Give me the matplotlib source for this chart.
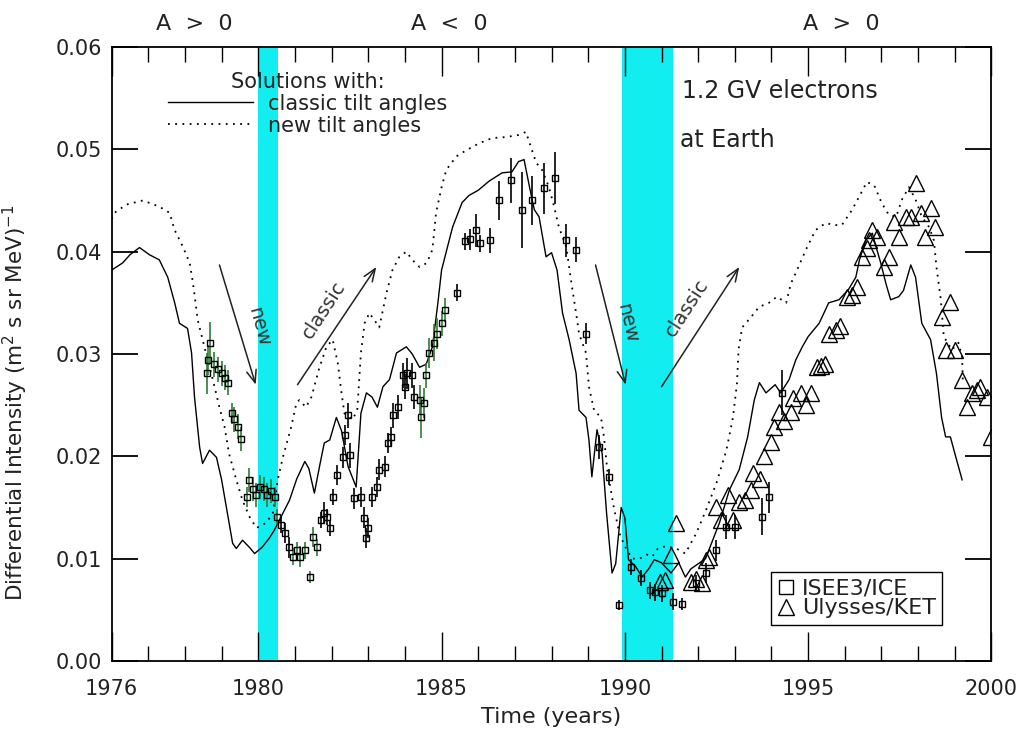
import numpy as np
import matplotlib
matplotlib.use("Agg")
import matplotlib.pyplot as plt
from matplotlib.lines import Line2D
from matplotlib.ticker import MultipleLocator
import matplotlib.transforms as mtransforms

# model solutions: classic tilt angles (solid)
classic_t = [1976.0, 1976.3, 1976.5, 1976.76, 1977.03, 1977.3, 1977.53, 1977.72, 1977.85, 1978.07,
             1978.18, 1978.26, 1978.4, 1978.48, 1978.67, 1978.86, 1979.0, 1979.13, 1979.3, 1979.4,
             1979.57, 1979.76, 1979.9, 1980.1, 1980.3, 1980.44, 1980.58, 1980.85, 1981.05, 1981.27,
             1981.38, 1981.53, 1981.67, 1981.8, 1981.95, 1982.13, 1982.27, 1982.45, 1982.67, 1982.8,
             1982.95, 1983.1, 1983.25, 1983.4, 1983.58, 1983.77, 1984.04, 1984.2, 1984.4, 1984.58,
             1984.75, 1984.9, 1985.0, 1985.3, 1985.56, 1985.75, 1986.0, 1986.3, 1986.65, 1986.92,
             1987.1, 1987.25, 1987.4, 1987.53, 1987.66, 1987.85, 1988.0, 1988.15, 1988.3, 1988.48,
             1988.67, 1988.75, 1988.94, 1989.02, 1989.1, 1989.24, 1989.38, 1989.5, 1989.65, 1989.75,
             1989.9, 1990.0, 1990.1, 1990.3, 1990.47, 1990.65, 1990.8, 1991.0, 1991.26, 1991.47,
             1991.65, 1991.8, 1992.2, 1992.58, 1992.85, 1993.12, 1993.35, 1993.53, 1993.67, 1993.85,
             1994.1, 1994.25, 1994.48, 1994.66, 1994.84, 1995.0, 1995.3, 1995.56, 1995.84, 1996.1,
             1996.3, 1996.4, 1996.57, 1996.75, 1996.85, 1996.98, 1997.12, 1997.25, 1997.47, 1997.6,
             1997.8, 1997.93, 1998.1, 1998.34, 1998.5, 1998.64, 1998.75, 1998.88, 1999.0, 1999.2]
classic_j = [0.0382, 0.0389, 0.0397, 0.0404, 0.0397, 0.0392, 0.0375, 0.0350, 0.0330, 0.0325,
             0.0301, 0.0258, 0.0209, 0.0193, 0.0206, 0.0199, 0.0177, 0.0150, 0.0115, 0.0110,
             0.0118, 0.0111, 0.0105, 0.0111, 0.0120, 0.0128, 0.0138, 0.0157, 0.0178, 0.0195,
             0.0188, 0.0164, 0.0190, 0.0213, 0.0216, 0.0238, 0.0225, 0.0190, 0.0170, 0.0242,
             0.0262, 0.0258, 0.0248, 0.0268, 0.0275, 0.0301, 0.0307, 0.0300, 0.0287, 0.0290,
             0.0307, 0.0350, 0.0382, 0.0424, 0.0448, 0.0455, 0.0460, 0.0469, 0.0477, 0.0478,
             0.0488, 0.0490, 0.0463, 0.0441, 0.0434, 0.0395, 0.0399, 0.0382, 0.0340, 0.0314,
             0.0281, 0.0245, 0.0238, 0.0216, 0.0180, 0.0226, 0.0203, 0.0145, 0.0086, 0.0095,
             0.0150, 0.0140, 0.0099, 0.0092, 0.0082, 0.0090, 0.0099, 0.0096, 0.0086, 0.0096,
             0.0082, 0.0090, 0.0100, 0.0135, 0.0167, 0.0187, 0.0219, 0.0255, 0.0272, 0.0262,
             0.0270, 0.0262, 0.0275, 0.0294, 0.0307, 0.0317, 0.0330, 0.0350, 0.0353, 0.0363,
             0.0375, 0.0392, 0.0411, 0.0418, 0.0405, 0.0389, 0.0369, 0.0353, 0.0356, 0.0362,
             0.0387, 0.0375, 0.0330, 0.0314, 0.0281, 0.0238, 0.0219, 0.0219, 0.0203, 0.0177]

# model solutions: new tilt angles (dotted)
new_t = [1976.0, 1976.08, 1976.4, 1976.85, 1977.3, 1977.58, 1977.72, 1977.94, 1978.13, 1978.22,
         1978.35, 1978.53, 1978.76, 1978.94, 1979.08, 1979.2, 1979.4, 1979.57, 1979.76, 1979.95,
         1980.22, 1980.4, 1980.53, 1980.67, 1980.9, 1981.04, 1981.12, 1981.3, 1981.45, 1981.67,
         1981.86, 1982.03, 1982.17, 1982.27, 1982.35, 1982.57, 1982.7, 1982.8, 1982.9, 1983.03,
         1983.17, 1983.3, 1983.5, 1983.66, 1983.85, 1984.04, 1984.2, 1984.4, 1984.6, 1984.75,
         1984.85, 1985.0, 1985.13, 1985.4, 1985.67, 1986.03, 1986.38, 1986.76, 1987.1, 1987.3,
         1987.44, 1987.58, 1987.74, 1987.93, 1988.07, 1988.2, 1988.4, 1988.48, 1988.56, 1988.67,
         1988.75, 1988.94, 1989.02, 1989.16, 1989.35, 1989.43, 1989.52, 1989.7, 1989.85, 1990.0,
         1990.2, 1990.4, 1990.6, 1990.75, 1990.9, 1991.1, 1991.4, 1991.65, 1991.95, 1992.22,
         1992.5, 1992.77, 1992.95, 1993.06, 1993.1, 1993.2, 1993.44, 1993.66, 1993.93, 1994.15,
         1994.4, 1994.53, 1994.66, 1994.94, 1995.2, 1995.48, 1995.7, 1995.92, 1996.2, 1996.44,
         1996.6, 1996.8, 1997.0, 1997.2, 1997.4, 1997.56, 1997.75, 1997.93, 1998.1, 1998.3,
         1998.43, 1998.5, 1998.62, 1998.7, 1998.92, 1999.1, 1999.2, 1999.22]
new_j = [0.0432, 0.0438, 0.0446, 0.0450, 0.0444, 0.0438, 0.0421, 0.0405, 0.0389, 0.0369,
         0.0333, 0.0307, 0.0275, 0.0248, 0.0229, 0.0203, 0.0177, 0.0157, 0.0141, 0.0130,
         0.0135, 0.0145, 0.0177, 0.0199, 0.0229, 0.0252, 0.0255, 0.0248, 0.0258, 0.0287,
         0.0307, 0.0314, 0.0291, 0.0262, 0.0242, 0.0236, 0.0245, 0.0301, 0.0330, 0.0340,
         0.0333, 0.0326, 0.0360, 0.0382, 0.0395, 0.0400, 0.0392, 0.0385, 0.0389, 0.0402,
         0.0438, 0.0463, 0.0480, 0.0493, 0.0499, 0.0506, 0.0511, 0.0512, 0.0514, 0.0517,
         0.0502, 0.0487, 0.0480, 0.0463, 0.0444, 0.0424, 0.0405, 0.0385, 0.0365, 0.0340,
         0.0320, 0.0301, 0.0268, 0.0245, 0.0238, 0.0219, 0.0187, 0.0150, 0.0125, 0.0112,
         0.0100, 0.0100, 0.0104, 0.0102, 0.0110, 0.0112, 0.0110, 0.0105, 0.0125, 0.0148,
         0.0174, 0.0206, 0.0238, 0.0272, 0.0304, 0.0326, 0.0336, 0.0346, 0.0350, 0.0356,
         0.0350, 0.0369, 0.0379, 0.0402, 0.0421, 0.0428, 0.0426, 0.0426, 0.0441, 0.0457,
         0.0468, 0.0465, 0.0448, 0.0436, 0.0434, 0.0451, 0.0463, 0.0451, 0.0434, 0.0424,
         0.0411, 0.0385, 0.0353, 0.0317, 0.0304, 0.0311, 0.0297, 0.0272]

# ISEE3/ICE observations with uncertainties
isee_t = [1978.6, 1978.62, 1978.67, 1978.8, 1978.9, 1979.0, 1979.1, 1979.17, 1979.27, 1979.35,
          1979.44, 1979.53, 1979.68, 1979.76, 1979.85, 1979.95, 1980.05, 1980.15, 1980.25, 1980.35,
          1980.45, 1980.5, 1980.63, 1980.72, 1980.85, 1980.95, 1981.05, 1981.15, 1981.27, 1981.4,
          1981.5, 1981.6, 1981.7, 1981.78, 1981.88, 1981.97, 1982.03, 1982.15, 1982.3, 1982.37,
          1982.45, 1982.5, 1982.6, 1982.8, 1982.88, 1982.93, 1983.0, 1983.1, 1983.23, 1983.3,
          1983.45, 1983.53, 1983.63, 1983.67, 1983.8, 1983.95, 1984.0, 1984.07, 1984.18, 1984.26,
          1984.4, 1984.45, 1984.53, 1984.58, 1984.67, 1984.8, 1984.87, 1985.0, 1985.08, 1985.43,
          1985.65, 1985.78, 1985.95, 1986.05, 1986.33, 1986.58, 1986.9, 1987.2, 1987.48, 1987.8,
          1988.1, 1988.4, 1988.68, 1988.94, 1989.3, 1989.57, 1989.84, 1990.17, 1990.45, 1990.68,
          1990.82, 1991.0, 1991.3, 1991.57, 1991.94, 1992.2, 1992.48, 1992.75, 1993.0, 1993.74,
          1993.93, 1994.3]
isee_j = [0.0281, 0.0294, 0.0311, 0.0290, 0.0285, 0.0281, 0.0277, 0.0272, 0.0242, 0.0236,
          0.0229, 0.0217, 0.0160, 0.0177, 0.0168, 0.0162, 0.0170, 0.0168, 0.0162, 0.0166,
          0.0160, 0.0141, 0.0133, 0.0125, 0.0111, 0.0102, 0.0108, 0.0102, 0.0108, 0.0082,
          0.0121, 0.0111, 0.0138, 0.0145, 0.0141, 0.0130, 0.0160, 0.0182, 0.0199, 0.0221,
          0.0240, 0.0201, 0.0159, 0.0160, 0.0140, 0.0120, 0.0130, 0.0160, 0.0170, 0.0187,
          0.0190, 0.0213, 0.0219, 0.0240, 0.0248, 0.0279, 0.0268, 0.0281, 0.0279, 0.0258,
          0.0255, 0.0238, 0.0252, 0.0279, 0.0301, 0.0311, 0.0320, 0.0330, 0.0343, 0.0360,
          0.0410, 0.0412, 0.0421, 0.0408, 0.0411, 0.0450, 0.0470, 0.0441, 0.0450, 0.0462,
          0.0472, 0.0411, 0.0402, 0.0320, 0.0209, 0.0180, 0.0055, 0.0092, 0.0081, 0.0069,
          0.0067, 0.0066, 0.0058, 0.0056, 0.0076, 0.0086, 0.0108, 0.0131, 0.0131, 0.0141,
          0.0160, 0.0262]
isee_err = [0.0020, 0.0015, 0.0020, 0.0012, 0.0012, 0.0012, 0.0012, 0.0012, 0.0010, 0.0012,
            0.0012, 0.0012, 0.0010, 0.0012, 0.0012, 0.0012, 0.0012, 0.0012, 0.0012, 0.0012,
            0.0010, 0.0008, 0.0008, 0.0010, 0.0010, 0.0008, 0.0008, 0.0010, 0.0008, 0.0006,
            0.0010, 0.0008, 0.0008, 0.0010, 0.0008, 0.0008, 0.0008, 0.0010, 0.0010, 0.0010,
            0.0012, 0.0012, 0.0010, 0.0010, 0.0010, 0.0010, 0.0010, 0.0010, 0.0010, 0.0010,
            0.0010, 0.0010, 0.0010, 0.0012, 0.0012, 0.0012, 0.0012, 0.0015, 0.0012, 0.0012,
            0.0015, 0.0020, 0.0015, 0.0012, 0.0015, 0.0018, 0.0015, 0.0012, 0.0012, 0.0008,
            0.0008, 0.0010, 0.0016, 0.0008, 0.0012, 0.0019, 0.0022, 0.0037, 0.0024, 0.0025,
            0.0025, 0.0016, 0.0012, 0.0010, 0.0012, 0.0008, 0.0005, 0.0008, 0.0008, 0.0008,
            0.0008, 0.0008, 0.0008, 0.0006, 0.0008, 0.0010, 0.0010, 0.0012, 0.0012, 0.0018,
            0.0015, 0.0022]

# Ulysses/KET observations
ket_t = [1990.95, 1991.1, 1991.26, 1991.4, 1991.8, 1991.95, 1992.1, 1992.2, 1992.3, 1992.48,
         1992.62, 1992.8, 1992.95, 1993.12, 1993.28, 1993.44, 1993.5, 1993.7, 1993.8, 1994.0,
         1994.07, 1994.2, 1994.35, 1994.52, 1994.6, 1994.8, 1994.95, 1995.07, 1995.24, 1995.35,
         1995.45, 1995.56, 1995.75, 1995.88, 1996.05, 1996.2, 1996.33, 1996.47, 1996.6, 1996.65,
         1996.74, 1996.88, 1997.07, 1997.2, 1997.34, 1997.47, 1997.66, 1997.8, 1997.93, 1998.07,
         1998.2, 1998.34, 1998.47, 1998.64, 1998.75, 1998.88, 1999.0, 1999.2, 1999.33, 1999.46,
         1999.6, 1999.7, 1999.87, 2000.0]
ket_j = [0.0077, 0.0079, 0.0104, 0.0135, 0.0077, 0.0080, 0.0076, 0.0099, 0.0102, 0.0150,
         0.0138, 0.0162, 0.0138, 0.0155, 0.0157, 0.0167, 0.0184, 0.0178, 0.0200, 0.0214,
         0.0229, 0.0243, 0.0235, 0.0243, 0.0257, 0.0262, 0.0250, 0.0262, 0.0287, 0.0288,
         0.0290, 0.0320, 0.0323, 0.0327, 0.0356, 0.0358, 0.0365, 0.0395, 0.0404, 0.0411,
         0.0421, 0.0414, 0.0385, 0.0395, 0.0429, 0.0414, 0.0434, 0.0434, 0.0467, 0.0438,
         0.0414, 0.0443, 0.0424, 0.0336, 0.0304, 0.0351, 0.0304, 0.0275, 0.0248, 0.0262,
         0.0265, 0.0268, 0.0258, 0.0219]

# magnetic polarity epochs and reversal periods
polarity_x = [1978.25, 1985.22, 1995.9]
polarity_labels = ["A  >  0", "A  <  0", "A  >  0"]
reversals = [(1980.0, 1980.53), (1989.92, 1991.3)]

xticks = [1976, 1980, 1985, 1990, 1995, 2000]
yticks = [0.00, 0.01, 0.02, 0.03, 0.04, 0.05, 0.06]

plt.rcParams['font.family'] = ['DejaVu Sans']
txt = '#222222'

fig = plt.figure(figsize=(10.29, 7.32), dpi=100)
ax = fig.add_axes([0.1085, 0.097, 0.855, 0.8388])

for a, b in reversals:
    ax.axvspan(a, b, color='#12eef0', lw=0, zorder=0)

ax.plot(classic_t, classic_j, color='k', lw=1.0, zorder=3)
ax.plot(new_t, new_j, color='k', lw=1.3, ls=(0, (1, 3)), zorder=3)

# error bars: some of the ISEE3 bars are drawn in green
green_spans = [(1978.5, 1980.6), (1980.9, 1981.6), (1984.4, 1985.1)]
isee_t_a = np.array(isee_t)
green = np.zeros(len(isee_t), dtype=bool)
for a, b in green_spans:
    green |= (isee_t_a >= a) & (isee_t_a <= b)
isee_j_a = np.array(isee_j)
isee_err_a = np.array(isee_err)
for mask, ec in [(~green, 'k'), (green, '#2f7a35')]:
    ax.errorbar(isee_t_a[mask], isee_j_a[mask], yerr=isee_err_a[mask], fmt='none',
                ecolor=ec, elinewidth=1.2, capsize=0, zorder=4)
ax.plot(isee_t, isee_j, ls='none', marker='s', ms=5, mfc='none', mec='k', mew=1.0, zorder=5)
ax.plot(ket_t, ket_j, ls='none', marker='^', ms=11, mfc='none', mec='k', mew=1.0, zorder=5)

ax.set_xlim(1976, 2000)
ax.set_ylim(0, 0.06)
ax.set_xticks(xticks)
ax.set_xticklabels([str(t) for t in xticks])
ax.xaxis.set_minor_locator(MultipleLocator(1))
ax.set_yticks(yticks)
ax.set_yticklabels(['%.2f' % v for v in yticks])
ax.tick_params(axis='x', which='major', direction='in', length=21, width=1.0,
               top=True, bottom=True, labelsize=15, pad=13, labelcolor=txt)
ax.tick_params(axis='x', which='minor', direction='in', length=11, width=1.0, top=True, bottom=True)
ax.tick_params(axis='y', which='major', direction='in', length=19, width=1.3,
               left=True, right=True, labelsize=15, pad=7, labelcolor=txt)
for s in ax.spines.values():
    s.set_linewidth(1.3)

ax.set_xlabel('Time (years)', fontsize=16, color=txt)
ax.xaxis.set_label_coords(0.5, -0.075)
ax.set_ylabel('Differential Intensity (m$^2$ s sr MeV)$^{-1}$', fontsize=15.5, color=txt)
ax.yaxis.set_label_coords(-0.093, 0.42)

top = mtransforms.blended_transform_factory(ax.transData, ax.transAxes)
for x, lab in zip(polarity_x, polarity_labels):
    ax.text(x, 1.037, lab, transform=top, ha='center', va='center', fontsize=16, color=txt)

ax.text(1991.55, 0.928, '1.2 GV electrons', transform=top, ha='left', va='center',
        fontsize=17, color=txt)
ax.text(1991.5, 0.849, 'at Earth', transform=top, ha='left', va='center',
        fontsize=17, color=txt)

# arrows indicating which solution applies after each reversal
arrows = [((1978.94, 0.0387), (1979.93, 0.0270), 'new', (1980.0, 0.0326), -75),
          ((1981.07, 0.0270), (1983.22, 0.0385), 'classic', (1981.8, 0.0343), 57),
          ((1989.2, 0.0387), (1990.02, 0.0270), 'new', (1990.07, 0.0330), -77),
          ((1991.0, 0.0268), (1993.12, 0.0385), 'classic', (1991.7, 0.0345), 57)]
for tail, head, lab, pos, rot in arrows:
    ax.annotate('', xy=head, xytext=tail,
                arrowprops=dict(arrowstyle='->,head_length=0.9,head_width=0.35',
                                color='#222222', lw=1.1, shrinkA=0, shrinkB=0), zorder=6)
    ax.text(pos[0], pos[1], lab, rotation=rot, ha='center', va='center',
            fontsize=14, color='#333333', rotation_mode='anchor', zorder=6)

# legend for the model curves
h_lines = [Line2D([], [], color='k', lw=1.0),
           Line2D([], [], color='k', lw=1.3, ls=(0, (1, 3)))]
leg1 = ax.legend(h_lines, ['classic tilt angles', 'new tilt angles'], title='Solutions with:',
                 loc='upper left', bbox_to_anchor=(0.064, 0.96), frameon=False,
                 fontsize=15, title_fontsize=15, handlelength=4.1, handletextpad=0.7,
                 labelspacing=0.1, borderpad=0, borderaxespad=0)
for t in leg1.get_texts():
    t.set_color(txt)
leg1.get_title().set_color(txt)
ax.add_artist(leg1)

# legend for the observations
h_obs = [Line2D([], [], ls='none', marker='s', ms=10, mfc='none', mec='k', mew=1.0),
         Line2D([], [], ls='none', marker='^', ms=12, mfc='none', mec='k', mew=1.0)]
leg2 = ax.legend(h_obs, ['ISEE3/ICE', 'Ulysses/KET'], loc='lower left',
                 bbox_to_anchor=(0.749, 0.0586), fontsize=16, handlelength=0.8,
                 handletextpad=0.3, labelspacing=0.0, borderpad=0.3, fancybox=False,
                 framealpha=1, edgecolor='k', borderaxespad=0)
leg2.get_frame().set_linewidth(1.0)
for t in leg2.get_texts():
    t.set_color(txt)

fig.savefig('out.png', dpi=100)
